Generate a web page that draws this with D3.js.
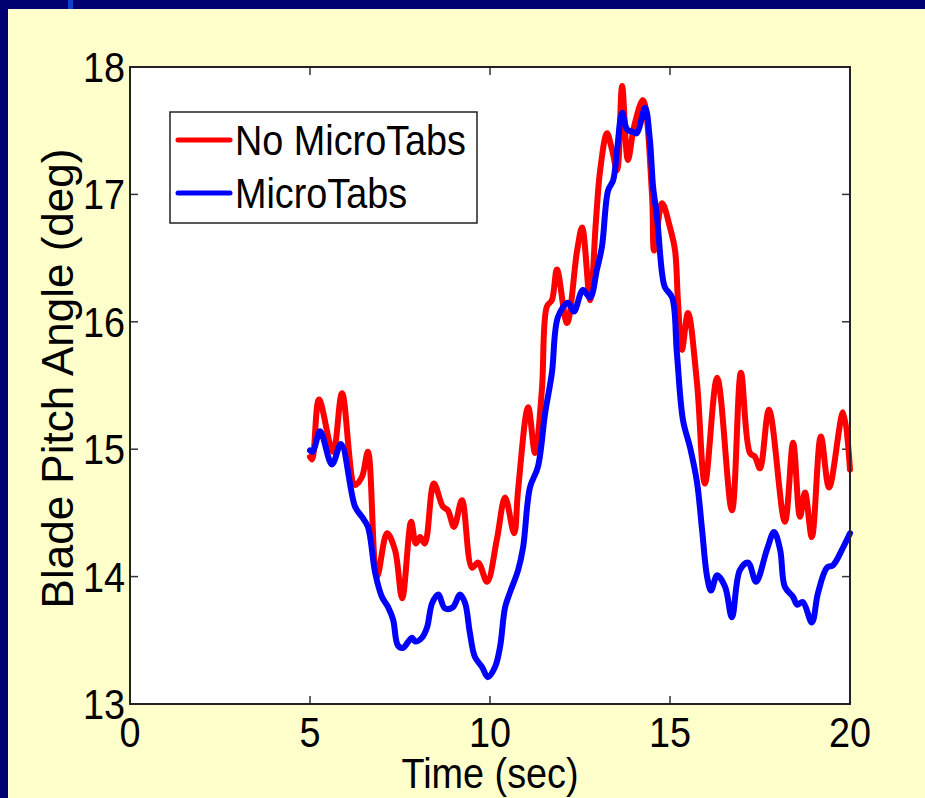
<!DOCTYPE html>
<html>
<head>
<meta charset="utf-8">
<script src="https://cdn.jsdelivr.net/npm/d3@7"></script>
<style>
  html, body { margin: 0; padding: 0; background: #000070; overflow: hidden; }
  svg { display: block; }
</style>
</head>
<body>
<div class="chart"></div>
<script>
// blade pitch angle, with and without microtabs
var width = 925;
var height = 798;

var timeNoTabs = [5.00, 5.06, 5.25, 5.64, 5.89, 6.25, 6.44, 6.61, 6.86, 7.14, 7.36, 7.56, 7.81, 7.94, 8.06, 8.19,
  8.44, 8.69, 8.83, 9.00, 9.22, 9.50, 9.67, 9.92, 10.19, 10.42, 10.67, 10.78, 11.06, 11.25, 11.44, 11.58,
  11.72, 11.86, 12.14, 12.42, 12.56, 12.78, 12.94, 13.06, 13.25, 13.39, 13.53, 13.67, 13.83, 14.00, 14.25,
  14.50, 14.56, 14.78, 15.00, 15.14, 15.22, 15.33, 15.50, 15.75, 15.97, 16.31, 16.72, 16.97, 17.22, 17.36,
  17.50, 17.75, 18.19, 18.42, 18.61, 18.75, 18.94, 19.19, 19.42, 19.81, 20.00];
var pitchNoTabs = [14.94, 14.92, 15.39, 14.98, 15.44, 14.72, 14.78, 14.98, 14.00, 14.34, 14.21, 13.83, 14.43, 14.26, 14.31, 14.26,
  14.73, 14.55, 14.52, 14.39, 14.60, 14.07, 14.11, 13.96, 14.29, 14.62, 14.34, 14.68, 15.33, 14.97, 15.46, 16.12,
  16.17, 16.41, 15.99, 16.56, 16.74, 16.17, 16.78, 17.19, 17.48, 17.35, 17.19, 17.85, 17.27, 17.53, 17.74,
  17.00, 16.56, 16.93, 16.74, 16.56, 16.17, 15.78, 16.07, 15.52, 14.73, 15.56, 14.52, 15.60, 14.97, 14.94,
  14.85, 15.31, 14.43, 15.05, 14.47, 14.66, 14.31, 15.10, 14.70, 15.29, 14.84];

var timeTabs = [5.00, 5.08, 5.28, 5.61, 5.86, 6.25, 6.44, 6.61, 6.81, 7.00, 7.17, 7.31, 7.44, 7.58, 7.83, 7.92,
  8.11, 8.25, 8.39, 8.56, 8.75, 8.97, 9.17, 9.31, 9.44, 9.58, 9.78, 9.94, 10.14, 10.28, 10.42, 10.56,
  10.78, 10.92, 11.11, 11.33, 11.53, 11.72, 11.89, 12.17, 12.33, 12.58, 12.78, 12.97, 13.11, 13.28, 13.42,
  13.53, 13.67, 13.81, 13.97, 14.08, 14.31, 14.44, 14.53, 14.64, 14.78, 14.86, 15.06, 15.19, 15.36, 15.56,
  15.75, 15.89, 16.03, 16.14, 16.31, 16.53, 16.72, 16.94, 17.17, 17.39, 17.69, 17.89, 18.06, 18.19, 18.42,
  18.53, 18.69, 18.94, 19.11, 19.36, 19.53, 19.81, 20.00];
var pitchTabs = [14.99, 14.98, 15.14, 14.88, 15.04, 14.55, 14.47, 14.39, 14.03, 13.84, 13.76, 13.66, 13.46, 13.44, 13.52, 13.49,
  13.52, 13.60, 13.79, 13.86, 13.75, 13.76, 13.86, 13.79, 13.56, 13.37, 13.29, 13.21, 13.29, 13.45, 13.76, 13.88,
  14.05, 14.23, 14.70, 14.86, 15.28, 15.60, 16.04, 16.15, 16.08, 16.25, 16.19, 16.41, 16.59, 17.03, 17.11,
  17.35, 17.64, 17.51, 17.49, 17.48, 17.68, 17.43, 17.06, 16.82, 16.38, 16.27, 16.19, 15.76, 15.23, 15.01,
  14.74, 14.37, 14.00, 13.89, 14.01, 13.92, 13.68, 14.05, 14.11, 13.96, 14.21, 14.35, 14.21, 13.92, 13.84,
  13.78, 13.80, 13.64, 13.87, 14.07, 14.09, 14.23, 14.34];

var xTicks = [0, 5, 10, 15, 20];
var yTicks = [13, 14, 15, 16, 17, 18];
var seriesNames = ['No MicroTabs', 'MicroTabs'];
var seriesColors = ['#ff0000', '#0000ff'];

var margin = {left: 130, top: 67, right: 75, bottom: 94};
var plotW = width - margin.left - margin.right;
var plotH = height - margin.top - margin.bottom;

var x = d3.scaleLinear().domain([0, 20]).range([0, plotW]);
var y = d3.scaleLinear().domain([13, 18]).range([plotH, 0]);

var svg = d3.select('.chart').append('svg')
  .attr('width', width)
  .attr('height', height)
  .attr('font-family', "'Liberation Sans', Arial, sans-serif");

// slide background
svg.append('rect').attr('width', width).attr('height', height).attr('fill', '#000070');
svg.append('rect').attr('x', 68).attr('y', 0).attr('width', 5).attr('height', 9).attr('fill', '#0a40cc');
svg.append('rect').attr('x', 8).attr('y', 9).attr('width', width - 8).attr('height', height - 9).attr('fill', '#ffffcc');

var g = svg.append('g').attr('transform', `translate(${margin.left},${margin.top})`);

g.append('rect').attr('width', plotW).attr('height', plotH).attr('fill', 'white');

// text is a bit narrow in the slide
function label(sel, tx, ty, anchor, txt, size) {
  sel.append('text')
    .attr('transform', `translate(${tx},${ty}) scale(0.9,1)`)
    .attr('text-anchor', anchor)
    .style('font-size', (size || 42) + 'px')
    .attr('fill', 'black')
    .text(txt);
}

// ticks, inside, on all four sides
var tickLen = 8;
xTicks.forEach(function(t) {
  g.append('line').attr('x1', x(t)).attr('x2', x(t)).attr('y1', plotH).attr('y2', plotH - tickLen)
    .attr('stroke', '#333').attr('stroke-width', 1.5);
  g.append('line').attr('x1', x(t)).attr('x2', x(t)).attr('y1', 0).attr('y2', tickLen)
    .attr('stroke', '#333').attr('stroke-width', 1.5);
  label(g, x(t), plotH + 43, 'middle', t);
});
yTicks.forEach(function(t) {
  g.append('line').attr('x1', 0).attr('x2', tickLen).attr('y1', y(t)).attr('y2', y(t))
    .attr('stroke', '#333').attr('stroke-width', 1.5);
  g.append('line').attr('x1', plotW).attr('x2', plotW - tickLen).attr('y1', y(t)).attr('y2', y(t))
    .attr('stroke', '#333').attr('stroke-width', 1.5);
  label(g, -5, y(t) + 15, 'end', t);
});

var line = d3.line()
  .x(d => x(d[0]))
  .y(d => y(d[1]))
  .curve(d3.curveCatmullRom.alpha(0.5));

var series = [
  d3.zip(timeNoTabs, pitchNoTabs),
  d3.zip(timeTabs, pitchTabs)
];

g.selectAll('path.series')
  .data(series)
  .enter().append('path')
  .attr('class', 'series')
  .attr('fill', 'none')
  .attr('stroke', (d, i) => seriesColors[i])
  .attr('stroke-width', 6)
  .attr('stroke-linejoin', 'round')
  .attr('stroke-linecap', 'round')
  .attr('d', line);

// axes box
g.append('rect').attr('width', plotW).attr('height', plotH)
  .attr('fill', 'none').attr('stroke', '#222').attr('stroke-width', 2);

// legend
var lg = g.append('g').attr('transform', 'translate(40,45)');
lg.append('rect').attr('width', 307).attr('height', 111)
  .attr('fill', 'white').attr('stroke', '#222').attr('stroke-width', 1.5);
seriesNames.forEach(function(name, i) {
  var ly = 28 + i * 53;
  lg.append('line').attr('x1', 8).attr('x2', 60).attr('y1', ly).attr('y2', ly)
    .attr('stroke', seriesColors[i]).attr('stroke-width', 5).attr('stroke-linecap', 'round');
  label(lg, 65, ly + 15, 'start', name, 42);
});

// axis titles
label(svg, margin.left + plotW / 2, 788, 'middle', 'Time (sec)');
svg.append('text')
  .attr('transform', `translate(73,${margin.top + plotH / 2 - 7}) rotate(-90)`)
  .attr('text-anchor', 'middle')
  .style('font-size', '44px')
  .attr('fill', 'black')
  .text('Blade Pitch Angle (deg)');

svg.node();
</script>
</body>
</html>
